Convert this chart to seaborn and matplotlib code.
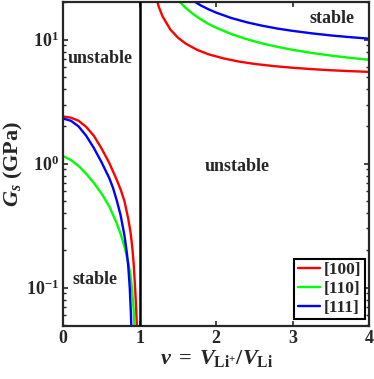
import pandas as pd
import matplotlib
matplotlib.use("Agg")
from matplotlib import pyplot as plt
from matplotlib.ticker import LogLocator, LogFormatterMathtext, NullFormatter, FixedLocator
import seaborn as sns

# Values (v, G_s in GPa)
red_left_v = [0, 0.1, 0.2, 0.3, 0.4, 0.5, 0.6, 0.7, 0.75, 0.8, 0.85, 0.88, 0.9, 0.92, 0.94, 0.955, 0.965]
red_left_g = [2.40, 2.35, 2.22, 1.98, 1.68, 1.33, 1.02, 0.74, 0.62, 0.50, 0.36, 0.28, 0.22, 0.16, 0.10, 0.065, 0.045]
green_left_v = [0, 0.1, 0.2, 0.3, 0.4, 0.5, 0.6, 0.7, 0.75, 0.8, 0.85, 0.88, 0.9, 0.92, 0.935]
green_left_g = [1.15, 1.07, 0.96, 0.83, 0.70, 0.575, 0.455, 0.33, 0.272, 0.215, 0.16, 0.125, 0.097, 0.067, 0.045]
blue_left_v = [0, 0.1, 0.2, 0.3, 0.4, 0.5, 0.6, 0.65, 0.7, 0.75, 0.8, 0.83, 0.85, 0.87, 0.885, 0.895]
blue_left_g = [2.31, 2.22, 2.00, 1.68, 1.34, 1.03, 0.77, 0.64, 0.505, 0.385, 0.265, 0.195, 0.15, 0.10, 0.062, 0.04]

red_right_v = [1.16, 1.2, 1.25, 1.3, 1.4, 1.5, 1.6, 1.75, 1.9, 2.1, 2.3, 2.5, 2.75, 3.0, 3.25, 3.5, 3.75, 4.0]
red_right_g = [32, 23.7, 18.4, 15.4, 12.1, 10.4, 9.32, 8.29, 7.63, 7.06, 6.66, 6.38, 6.13, 5.94, 5.79, 5.67, 5.58, 5.50]
green_right_v = [1.45, 1.5, 1.6, 1.7, 1.8, 1.9, 2.0, 2.2, 2.4, 2.6, 2.8, 3.0, 3.25, 3.5, 3.75, 4.0]
green_right_g = [22.8, 20.9, 18.1, 16.1, 14.6, 13.4, 12.5, 11.1, 10.1, 9.34, 8.76, 8.29, 7.82, 7.45, 7.14, 6.89]
blue_right_v = [1.65, 1.7, 1.8, 1.9, 2.0, 2.2, 2.4, 2.6, 2.8, 3.0, 3.25, 3.5, 3.75, 4.0]
blue_right_g = [21.7, 20.6, 18.9, 17.6, 16.55, 14.96, 13.83, 12.98, 12.31, 11.79, 11.26, 10.83, 10.49, 10.2]

labels = ["[100]", "[110]", "[111]"]
colors = ["#ff0000", "#00ff00", "#0000ff"]

sns.set_style("ticks")
plt.rc('font', family=['Liberation Serif', 'DejaVu Serif'], weight='bold', size=13)
plt.rc('mathtext', fontset='custom', rm='Liberation Serif:bold',
       it='Liberation Serif:italic:bold', bf='Liberation Serif:bold')
plt.rc('axes', edgecolor='#262626', linewidth=1.6)

fig = plt.figure(figsize=(3.74, 3.79), dpi=100)
ax = fig.add_axes([0.169, 0.140, 0.818, 0.855])

segments = [
    (red_left_v, red_left_g, red_right_v, red_right_g),
    (green_left_v, green_left_g, green_right_v, green_right_g),
    (blue_left_v, blue_left_g, blue_right_v, blue_right_g),
]
for (lv, lg, rv, rg), lab, col in zip(segments, labels, colors):
    sns.lineplot(x=lv, y=lg, color=col, lw=1.7, ax=ax, label=lab)
    sns.lineplot(x=rv, y=rg, color=col, lw=1.7, ax=ax)

ax.axvline(1, color='black', lw=1.8, zorder=5)

ax.set_yscale('log')
ax.set_xlim(0, 4)
ax.set_ylim(0.049, 20.2)
ax.xaxis.set_major_locator(FixedLocator([0, 1, 2, 3, 4]))
ax.yaxis.set_major_locator(LogLocator(base=10))
ax.yaxis.set_major_formatter(LogFormatterMathtext())
ax.yaxis.set_minor_locator(LogLocator(base=10, subs=range(2, 10)))
ax.yaxis.set_minor_formatter(NullFormatter())
ax.tick_params(which='both', direction='in', top=True, right=True, color='#262626', labelsize=13, pad=3)
ax.tick_params(which='major', length=3.5, width=1.2)
ax.tick_params(which='minor', length=2, width=1)

ax.set_xlabel(r'$v\;=\;V_{\mathrm{Li}^{+}}/V_{\mathrm{Li}}$', fontsize=16, labelpad=1)
ax.set_ylabel(r'$G_s$ (GPa)', fontsize=16, fontweight='bold', labelpad=1)

ax.text(0.49, 7.0, 'unstable', ha='center', va='center', fontsize=13, fontweight='bold')
ax.text(0.42, 0.116, 'stable', ha='center', va='center', fontsize=13, fontweight='bold')
ax.text(2.27, 0.95, 'unstable', ha='center', va='center', fontsize=13, fontweight='bold')
ax.text(3.52, 14.7, 'stable', ha='center', va='center', fontsize=13, fontweight='bold')

leg = ax.legend(loc='lower right', bbox_to_anchor=(0.985, 0.02), borderaxespad=0,
                fancybox=False, edgecolor='black', framealpha=1, handlelength=1.3,
                handletextpad=0.2, labelspacing=0.15, borderpad=0.2, fontsize=12.5)
leg.get_frame().set_linewidth(1.5)

fig.savefig('out.png', dpi=100)
